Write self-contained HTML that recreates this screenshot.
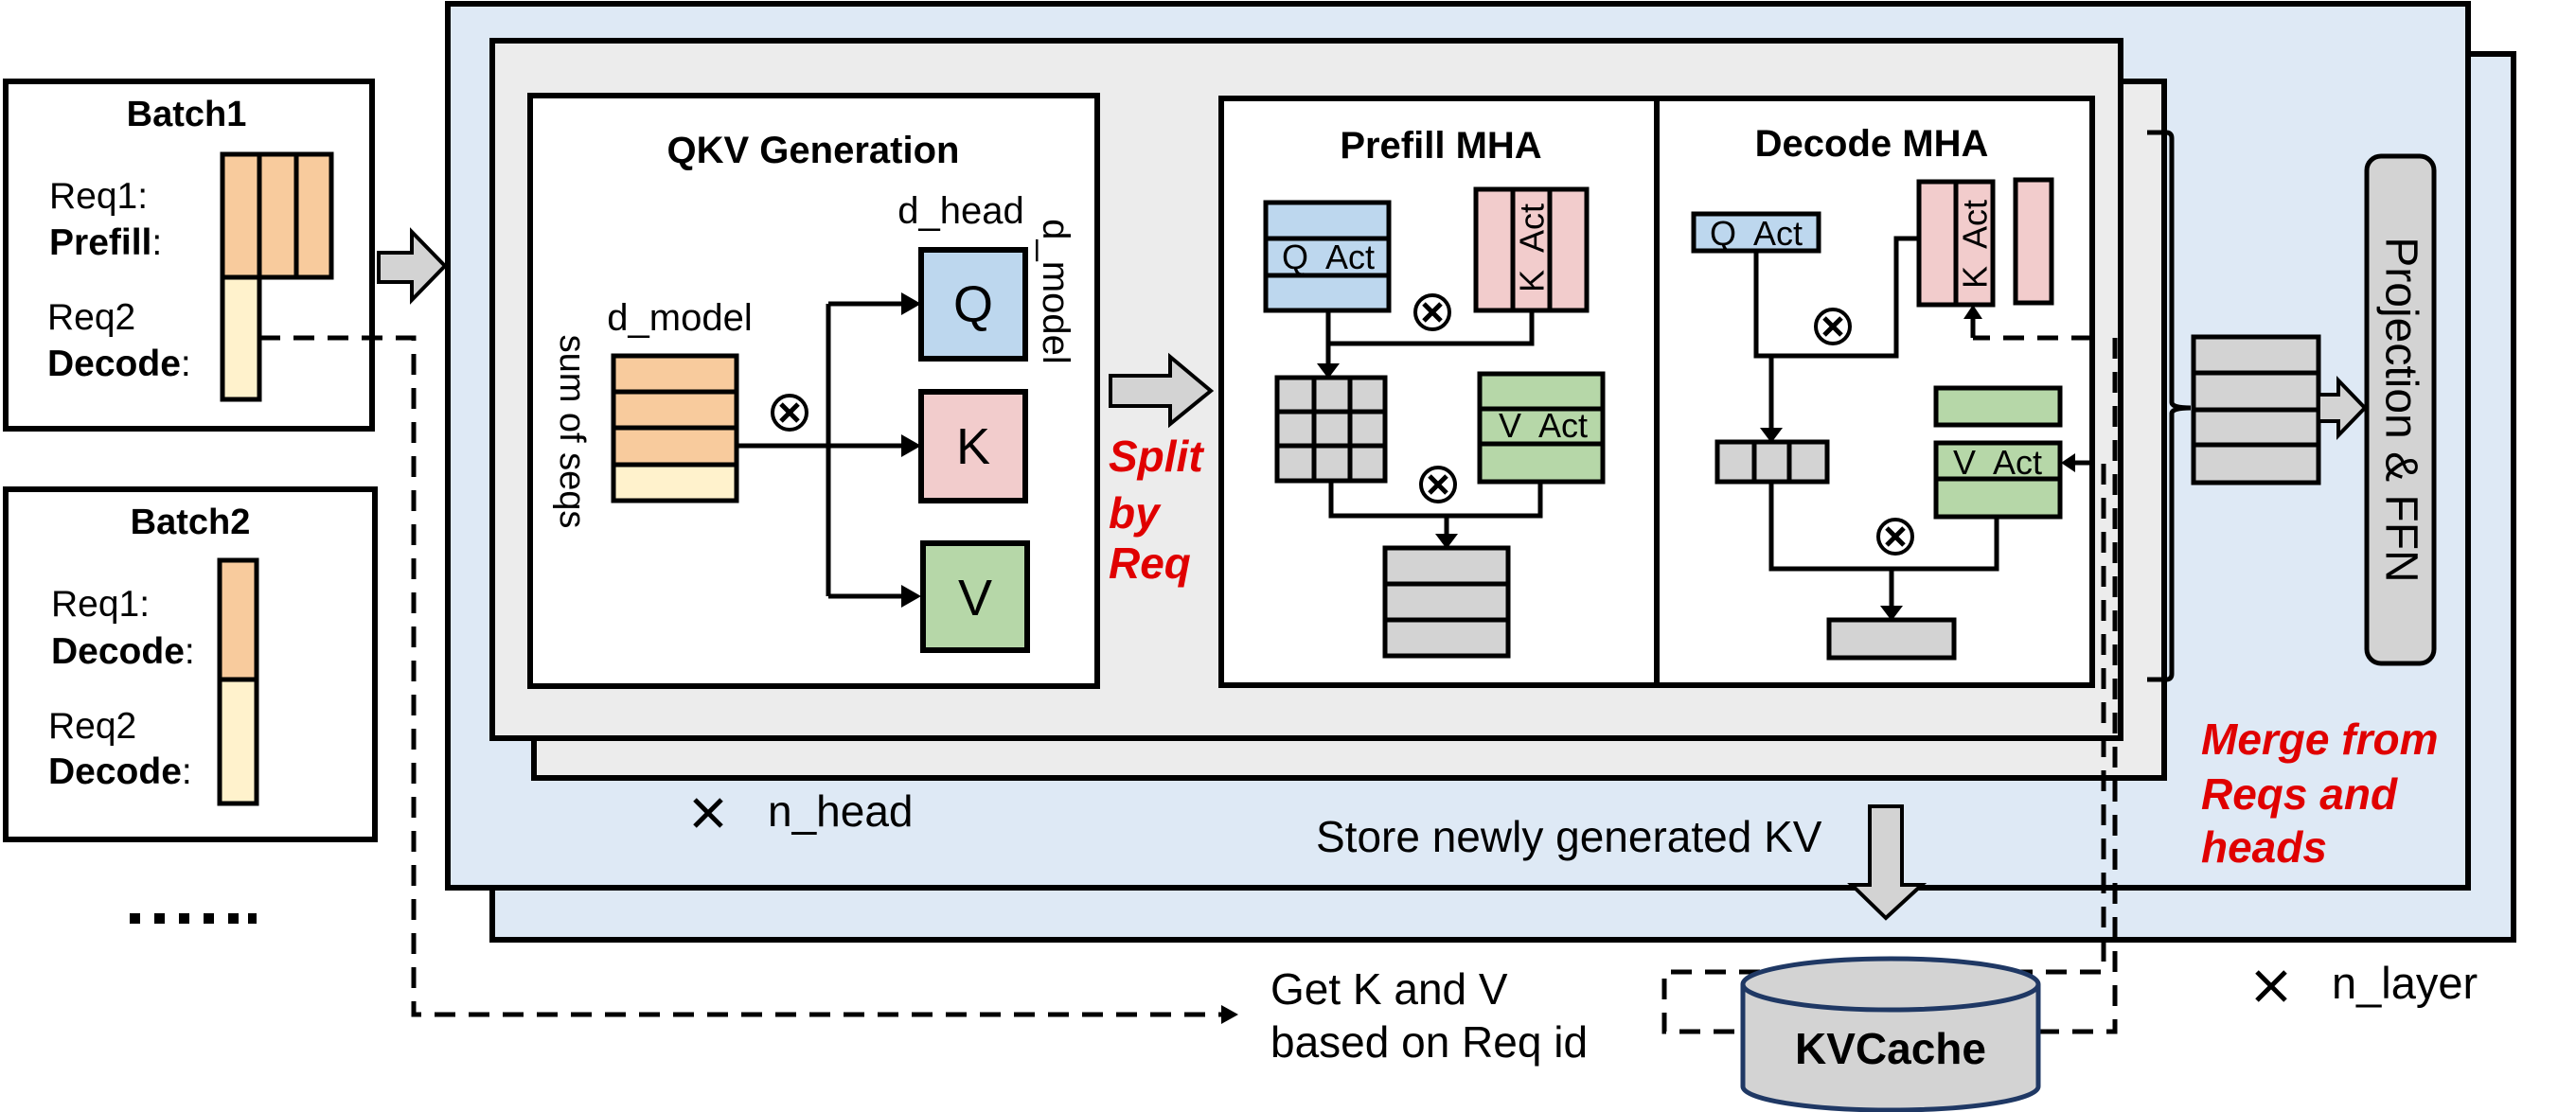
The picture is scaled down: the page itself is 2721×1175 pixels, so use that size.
<!DOCTYPE html>
<html><head><meta charset="utf-8"><style>
html,body{margin:0;padding:0;background:#fff}
svg{display:block}
text{font-family:"Liberation Sans",Arial,sans-serif}
</style></head><body>
<svg xmlns="http://www.w3.org/2000/svg" width="2721" height="1175" viewBox="0 0 2721 1175">
<rect width="2721" height="1175" fill="#fff"/>
<!-- layers -->
<rect x="520" y="57" width="2135" height="936" fill="#dee9f5" stroke="#000" stroke-width="6"/>
<rect x="473" y="4" width="2134" height="934" fill="#dee9f5" stroke="#000" stroke-width="6"/>
<rect x="564" y="86" width="1722" height="736" fill="#ececec" stroke="#000" stroke-width="6"/>
<rect x="520" y="43" width="1720" height="737" fill="#ececec" stroke="#000" stroke-width="6"/>
<!-- QKV box -->
<rect x="560" y="101" width="599" height="624" fill="#fff" stroke="#000" stroke-width="6"/>
<text x="859" y="172" font-size="40" font-weight="bold" text-anchor="middle">QKV Generation</text>
<text x="1015" y="236" font-size="40" text-anchor="middle">d_head</text>
<text transform="translate(1115,308) rotate(90)" font-size="40" text-anchor="middle" dominant-baseline="central">d_model</text>
<text x="718" y="349" font-size="40" text-anchor="middle">d_model</text>
<text transform="translate(604,456) rotate(90)" font-size="38" text-anchor="middle" dominant-baseline="central">sum of seqs</text>
<rect x="648" y="376" width="130" height="38" fill="#f8cb9d" stroke="#000" stroke-width="5"/>
<rect x="648" y="414" width="130" height="38" fill="#f8cb9d" stroke="#000" stroke-width="5"/>
<rect x="648" y="452" width="130" height="39" fill="#f8cb9d" stroke="#000" stroke-width="5"/>
<rect x="648" y="491" width="130" height="38" fill="#fff2cc" stroke="#000" stroke-width="5"/>
<circle cx="834" cy="436" r="18" fill="none" stroke="#000" stroke-width="4"/>
<path d="M825 427 L843 445 M843 427 L825 445" stroke="#000" stroke-width="5"/>
<g stroke="#000" stroke-width="5" fill="none">
<path d="M778 471 H960 M875 321 V630 M875 321 H955 M875 630 H955"/>
</g>
<polygon points="952,309 973,321 952,333" fill="#000"/>
<polygon points="952,459 973,471 952,483" fill="#000"/>
<polygon points="952,618 973,630 952,642" fill="#000"/>
<rect x="973" y="264" width="110" height="115" fill="#bdd7ee" stroke="#000" stroke-width="6"/>
<rect x="973" y="414" width="110" height="115" fill="#f2cccc" stroke="#000" stroke-width="6"/>
<rect x="975" y="574" width="110" height="113" fill="#b6d7a8" stroke="#000" stroke-width="6"/>
<text x="1028" y="340" font-size="54" text-anchor="middle">Q</text>
<text x="1028" y="490" font-size="54" text-anchor="middle">K</text>
<text x="1030" y="650" font-size="54" text-anchor="middle">V</text>
<!-- split arrow -->
<polygon points="1173,397 1236,397 1236,377 1279,413 1236,448 1236,429 1173,429" fill="#d3d3d3" stroke="#000" stroke-width="4"/>
<g font-size="46" font-weight="bold" font-style="italic" fill="#e00000">
<text x="1171" y="498">Split</text><text x="1171" y="558">by</text><text x="1171" y="611">Req</text>
</g>
<!-- MHA box -->
<rect x="1290" y="104" width="920" height="620" fill="#fff" stroke="#000" stroke-width="6"/>
<line x1="1750" y1="104" x2="1750" y2="724" stroke="#000" stroke-width="6"/>
<text x="1522" y="167" font-size="40" font-weight="bold" text-anchor="middle">Prefill MHA</text>
<text x="1977" y="165" font-size="40" font-weight="bold" text-anchor="middle">Decode MHA</text>
<!-- prefill -->
<rect x="1337" y="214" width="130" height="114" fill="#bdd7ee" stroke="#000" stroke-width="5"/>
<path d="M1337 252 H1467 M1337 291 H1467" stroke="#000" stroke-width="5"/>
<text x="1403" y="284" font-size="36" text-anchor="middle" xml:space="preserve">Q  Act</text>
<rect x="1559" y="200" width="117" height="128" fill="#f2cccc" stroke="#000" stroke-width="5"/>
<path d="M1598 200 V328 M1637 200 V328" stroke="#000" stroke-width="5"/>
<text transform="translate(1618,262) rotate(-90)" font-size="36" text-anchor="middle" dominant-baseline="central" xml:space="preserve">K  Act</text>
<circle cx="1513" cy="330" r="18" fill="none" stroke="#000" stroke-width="4"/>
<path d="M1504 321 L1522 339 M1522 321 L1504 339" stroke="#000" stroke-width="5"/>
<path d="M1403 328 V388 M1618 328 V363 H1403" stroke="#000" stroke-width="5" fill="none"/>
<polygon points="1391,384 1415,384 1403,400" fill="#000"/>
<rect x="1349" y="399" width="114" height="109" fill="#d3d3d3" stroke="#000" stroke-width="5"/>
<path d="M1388 399 V508 M1426 399 V508 M1349 435 H1463 M1349 471 H1463" stroke="#000" stroke-width="5"/>
<rect x="1563" y="395" width="130" height="114" fill="#b6d7a8" stroke="#000" stroke-width="5"/>
<path d="M1563 432 H1693 M1563 469 H1693" stroke="#000" stroke-width="5"/>
<text x="1630" y="462" font-size="36" text-anchor="middle" xml:space="preserve">V  Act</text>
<circle cx="1519" cy="512" r="18" fill="none" stroke="#000" stroke-width="4"/>
<path d="M1510 503 L1528 521 M1528 503 L1510 521" stroke="#000" stroke-width="5"/>
<path d="M1406 508 V545 H1627 V509 M1528 545 V568" stroke="#000" stroke-width="5" fill="none"/>
<polygon points="1516,564 1540,564 1528,580" fill="#000"/>
<rect x="1463" y="579" width="130" height="114" fill="#d3d3d3" stroke="#000" stroke-width="5"/>
<path d="M1463 617 H1593 M1463 655 H1593" stroke="#000" stroke-width="5"/>
<!-- decode -->
<rect x="1789" y="226" width="132" height="39" fill="#bdd7ee" stroke="#000" stroke-width="5"/>
<text x="1855" y="259" font-size="36" text-anchor="middle" xml:space="preserve">Q  Act</text>
<rect x="2027" y="192" width="78" height="130" fill="#f2cccc" stroke="#000" stroke-width="5"/>
<line x1="2066" y1="192" x2="2066" y2="322" stroke="#000" stroke-width="5"/>
<text transform="translate(2086,258) rotate(-90)" font-size="36" text-anchor="middle" dominant-baseline="central" xml:space="preserve">K  Act</text>
<rect x="2129" y="190" width="38" height="130" fill="#f2cccc" stroke="#000" stroke-width="5"/>
<circle cx="1936" cy="345" r="18" fill="none" stroke="#000" stroke-width="4"/>
<path d="M1927 336 L1945 354 M1945 336 L1927 354" stroke="#000" stroke-width="5"/>
<path d="M1855 265 V376 H2003 V252 H2027 M1871 376 V456" stroke="#000" stroke-width="5" fill="none"/>
<polygon points="1859,452 1883,452 1871,468" fill="#000"/>
<rect x="1814" y="467" width="116" height="42" fill="#d3d3d3" stroke="#000" stroke-width="5"/>
<path d="M1853 467 V509 M1890 467 V509" stroke="#000" stroke-width="5"/>
<rect x="2045" y="410" width="131" height="39" fill="#b6d7a8" stroke="#000" stroke-width="5"/>
<rect x="2045" y="468" width="131" height="78" fill="#b6d7a8" stroke="#000" stroke-width="5"/>
<line x1="2045" y1="506" x2="2176" y2="506" stroke="#000" stroke-width="5"/>
<text x="2110" y="501" font-size="36" text-anchor="middle" xml:space="preserve">V  Act</text>
<circle cx="2002" cy="567" r="18" fill="none" stroke="#000" stroke-width="4"/>
<path d="M1993 558 L2011 576 M2011 558 L1993 576" stroke="#000" stroke-width="5"/>
<path d="M1871 509 V601 H2109 V546 M1998 601 V644" stroke="#000" stroke-width="5" fill="none"/>
<polygon points="1986,640 2010,640 1998,656" fill="#000"/>
<rect x="1932" y="655" width="132" height="40" fill="#d3d3d3" stroke="#000" stroke-width="5"/>
<!-- dashed into decode -->
<path d="M2210 357 H2084" stroke="#000" stroke-width="5" stroke-dasharray="22 14" fill="none"/>
<path d="M2084 357 V335" stroke="#000" stroke-width="5"/>
<polygon points="2074,337 2094,337 2084,322" fill="#000"/>
<path d="M2210 489 H2190" stroke="#000" stroke-width="5"/>
<polygon points="2192,479 2192,499 2177,489" fill="#000"/>
<!-- brace -->
<path d="M2268 140 H2288 Q2294 140 2294 146 V425 Q2294 431 2314 431 Q2294 431 2294 437 V712 Q2294 718 2288 718 H2268" stroke="#000" stroke-width="5" fill="none"/>
<!-- merge block -->
<rect x="2317" y="356" width="132" height="154" fill="#d3d3d3" stroke="#000" stroke-width="5"/>
<path d="M2317 394 H2449 M2317 433 H2449 M2317 470 H2449" stroke="#000" stroke-width="5"/>
<polygon points="2449,417 2470,417 2470,402 2498,431 2470,460 2470,445 2449,445" fill="#d3d3d3" stroke="#000" stroke-width="4"/>
<rect x="2500" y="165" width="71" height="536" rx="15" fill="#d3d3d3" stroke="#000" stroke-width="5"/>
<text transform="translate(2536,433) rotate(90)" font-size="48" text-anchor="middle" dominant-baseline="central">Projection &amp; FFN</text>
<g font-size="46" font-weight="bold" font-style="italic" fill="#e00000">
<text x="2325" y="797">Merge from</text><text x="2325" y="855">Reqs and</text><text x="2325" y="911">heads</text>
</g>
<!-- n_head -->
<path d="M734 845 L762 873 M762 845 L734 873" stroke="#000" stroke-width="5"/>
<text x="811" y="873" font-size="46">n_head</text>
<text x="1390" y="900" font-size="46">Store newly generated KV</text>
<polygon points="1975,852 2009,852 2009,935 2030,935 1992,970 1956,935 1975,935" fill="#d3d3d3" stroke="#000" stroke-width="4"/>
<!-- batches -->
<rect x="6" y="86" width="387" height="367" fill="#fff" stroke="#000" stroke-width="6"/>
<text x="197" y="133" font-size="38" font-weight="bold" text-anchor="middle">Batch1</text>
<text x="52" y="220" font-size="39">Req1:</text>
<text x="52" y="269" font-size="39" font-weight="bold">Prefill<tspan font-weight="normal">:</tspan></text>
<text x="50" y="348" font-size="39">Req2</text>
<text x="50" y="397" font-size="39" font-weight="bold">Decode<tspan font-weight="normal">:</tspan></text>
<rect x="235" y="163" width="115" height="130" fill="#f8cb9d" stroke="#000" stroke-width="5"/>
<path d="M274 163 V293 M313 163 V293" stroke="#000" stroke-width="5"/>
<rect x="235" y="293" width="39" height="129" fill="#fff2cc" stroke="#000" stroke-width="5"/>
<polygon points="400,267 435,267 435,245 470,281 435,317 435,298 400,298" fill="#d3d3d3" stroke="#000" stroke-width="4"/>
<rect x="6" y="517" width="390" height="370" fill="#fff" stroke="#000" stroke-width="6"/>
<text x="201" y="564" font-size="38" font-weight="bold" text-anchor="middle">Batch2</text>
<text x="54" y="651" font-size="39">Req1:</text>
<text x="54" y="701" font-size="39" font-weight="bold">Decode<tspan font-weight="normal">:</tspan></text>
<text x="51" y="780" font-size="39">Req2</text>
<text x="51" y="828" font-size="39" font-weight="bold">Decode<tspan font-weight="normal">:</tspan></text>
<rect x="232" y="592" width="39" height="126" fill="#f8cb9d" stroke="#000" stroke-width="5"/>
<rect x="232" y="718" width="39" height="131" fill="#fff2cc" stroke="#000" stroke-width="5"/>
<g fill="#000"><rect x="137" y="965" width="11" height="11"/><rect x="163" y="965" width="11" height="11"/><rect x="189" y="965" width="11" height="11"/><rect x="215" y="965" width="11" height="11"/><rect x="241" y="965" width="11" height="11"/><rect x="262" y="965" width="9" height="11"/></g>
<!-- dashed from batch -->
<path d="M274 357 H437 V1072 H1290" stroke="#000" stroke-width="5" stroke-dasharray="22 14" fill="none"/>
<polygon points="1290,1062 1308,1072 1290,1082" fill="#000"/>
<text x="1342" y="1061" font-size="46">Get K and V</text>
<text x="1342" y="1117" font-size="46">based on Req id</text>
<!-- KV cache dashed -->
<path d="M2222 490 V1027 H1758 V1090 H1845" stroke="#000" stroke-width="5" stroke-dasharray="22 14" fill="none"/>
<path d="M2234 357 V1090 H2150" stroke="#000" stroke-width="5" stroke-dasharray="22 14" fill="none"/>
<path d="M1841 1040 V1148 A156 25 0 0 0 2153 1148 V1040" fill="#d3d3d3" stroke="#1f3864" stroke-width="5"/>
<ellipse cx="1997" cy="1040" rx="156" ry="27" fill="#d3d3d3" stroke="#1f3864" stroke-width="5"/>
<text x="1997" y="1124" font-size="46" font-weight="bold" text-anchor="middle">KVCache</text>
<path d="M2384 1027 L2414 1057 M2414 1027 L2384 1057" stroke="#000" stroke-width="5"/>
<text x="2463" y="1055" font-size="47">n_layer</text>
</svg>
</body></html>
